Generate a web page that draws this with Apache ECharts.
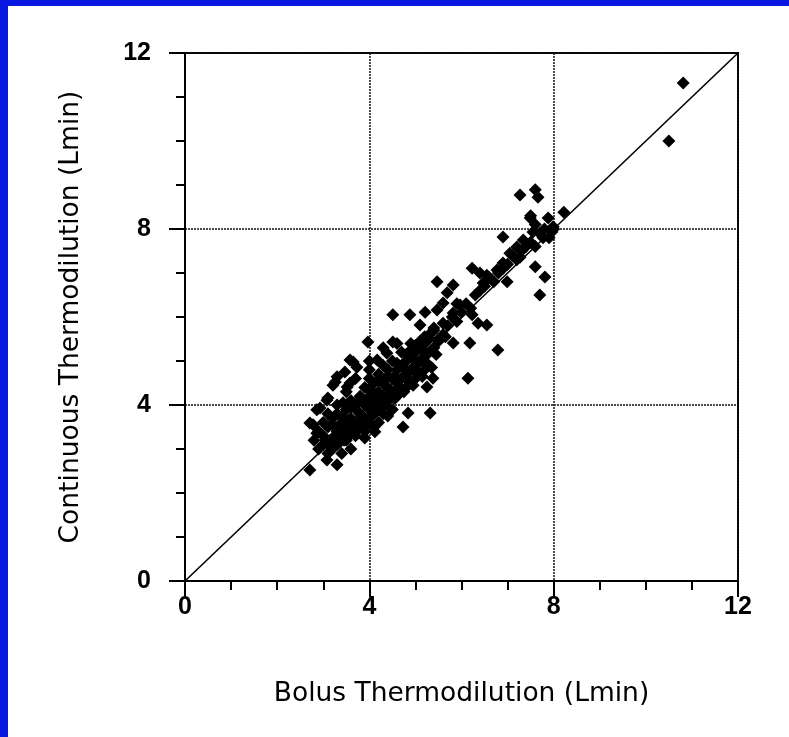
<!DOCTYPE html>
<html>
<head>
<meta charset="utf-8">
<script src="https://cdn.jsdelivr.net/npm/echarts@6/dist/echarts.min.js"></script>
<style>
html,body{margin:0;padding:0;background:#fff;}
#c{width:789px;height:737px;}
</style>
</head>
<body>
<div id="c"></div>
<script>
// Bolus thermodilution (x) vs Continuous thermodilution (y), L/min
const bolus = [
  10.81,10.50,
  7.27,7.60,7.66,8.22,7.88,7.49,7.96,7.99,
  6.90,7.34,7.55,7.77,7.20,7.05,7.27,7.60,7.81,7.70,
  6.90,6.77,6.99,6.23,6.40,6.55,6.47,
  5.47,5.82,5.69,5.60,5.97,5.82,6.23,6.36,6.55,6.79,6.18,5.82,6.14,
  4.51,4.88,5.10,5.21,5.47,5.60,3.97,4.51,5.38,5.25,5.32,4.84,4.73,4.12,2.71,3.30,3.08,
  3.58,3.73,3.30,3.52,3.21,3.08,2.93,2.71,2.86,3.43,3.58,3.10,3.65,3.47,3.26,2.78,2.86,
  4.17,4.38,4.00,
  2.90,3.00,3.10,3.00,3.20,3.10,2.90,3.20,3.30,3.30,3.40,3.40,3.20,3.50,3.50,3.60,3.60,3.50,3.30,3.70,
  3.70,3.80,3.80,3.70,3.90,3.90,4.00,4.00,4.00,3.80,3.60,3.90,4.10,4.10,4.20,4.20,4.10,4.30,4.30,4.20,
  4.00,4.40,4.40,4.50,4.50,4.40,4.30,4.60,4.60,4.70,4.70,4.50,4.80,4.80,4.90,4.90,4.70,5.00,5.00,5.10,
  5.10,4.90,5.20,5.20,5.30,4.60,4.80,5.00,5.20,4.50,4.30,3.60,3.40,3.90,4.20,3.50,3.30,3.10,3.00,2.80,
  3.70,4.00,4.30,4.60,5.30,5.40,5.50,5.40,5.60,5.70,5.80,5.90,6.00,6.10,5.90,6.20,6.30,6.40,6.50,6.60,
  6.70,6.80,6.90,7.00,7.10,7.20,7.30,7.40,7.50,7.60,7.70,7.80,7.90,7.60,7.50,8.00,
  3.05,3.15,3.25,3.35,3.45,3.55,3.65,3.75,3.85,3.95,4.05,4.15,4.25,4.35,4.45,4.55,4.65,4.75,4.85,4.95,
  5.05,5.15,5.25,5.35,5.45,3.40,3.60,3.80,4.00,4.20,4.40,4.60,4.80,5.00,5.20,5.40,3.20,3.90,4.10,4.40,
  3.35,3.55,3.75,3.95,4.15,4.35,4.55,4.75,4.95,5.15,3.45,3.65,3.85,4.05,4.25,4.45,4.65,4.85,5.05,5.25,
  4.90,5.10,5.30,5.50,5.65
];
const continuous = [
  11.32,10.00,
  8.77,8.89,8.72,8.38,8.25,8.25,7.93,8.05,
  7.82,7.75,7.93,7.80,7.59,7.45,7.36,7.14,6.91,6.50,
  7.23,7.07,6.80,7.11,7.00,6.95,6.77,
  6.80,6.73,6.55,6.32,6.27,6.09,6.05,5.86,5.82,5.25,5.41,5.41,4.61,
  6.05,6.05,5.82,6.11,6.16,5.86,5.43,5.43,4.61,4.41,3.82,3.82,3.50,3.39,2.52,2.64,2.75,
  5.02,4.86,4.64,4.41,4.45,4.11,3.93,3.59,3.36,4.05,4.50,4.16,4.98,4.75,4.52,3.55,3.89,
  5.02,5.18,4.80,
  3.00,3.10,2.90,3.30,3.20,3.50,3.40,3.00,3.10,3.40,3.30,3.60,3.70,3.20,3.50,3.40,3.70,3.90,3.80,3.30,
  3.60,3.50,3.80,4.00,3.70,4.00,3.60,3.90,4.20,4.20,4.10,4.40,3.80,4.10,4.00,4.30,4.50,4.20,4.50,4.70,
  4.60,4.10,4.40,4.30,4.60,4.80,4.90,4.50,4.80,4.60,4.90,5.00,4.70,5.00,4.80,5.10,5.20,4.90,5.20,5.00,
  5.30,5.40,5.10,5.40,5.20,4.20,4.40,4.60,4.80,3.90,3.80,3.00,2.90,3.40,3.60,4.30,4.00,3.80,3.60,3.20,
  4.60,5.00,5.30,5.40,5.50,5.30,5.50,5.70,5.60,5.80,6.00,5.90,6.10,6.30,6.30,6.20,6.50,6.60,6.70,6.90,
  6.80,7.00,7.10,7.20,7.40,7.30,7.50,7.60,7.70,7.60,7.90,8.00,7.80,8.10,8.30,8.00,
  3.20,3.05,3.30,3.15,3.45,3.30,3.55,3.45,3.65,3.55,3.95,3.85,4.10,4.00,4.25,4.15,4.40,4.30,4.55,4.45,
  4.75,4.65,4.95,4.85,5.15,3.75,3.95,4.15,4.35,4.55,4.65,4.95,5.15,5.35,5.55,5.75,3.55,3.25,3.50,3.75,
  3.45,3.65,3.85,4.05,4.25,4.45,4.65,4.85,5.05,5.25,3.20,3.40,3.55,3.75,3.95,4.15,4.35,4.55,4.70,4.90,
  5.25,5.45,5.60,5.45,5.55
];
const identityLine = [[0, 0], [12, 12]];
const tickValues = [0, 4, 8, 12];

const points = bolus.map((b, i) => [b, continuous[i]]);

const chart = echarts.init(document.getElementById('c'), null, {renderer: 'canvas'});
const labelFont = {fontSize: 25, fontWeight: 'bold', color: '#000', fontFamily: "Arial, 'Liberation Sans', sans-serif"};
const axisCommon = {
  type: 'value', min: tickValues[0], max: tickValues[tickValues.length - 1], interval: 4,
  axisLine: {show: true, onZero: false, lineStyle: {color: '#000', width: 2}},
  axisTick: {show: true, length: 16, lineStyle: {color: '#000', width: 2}},
  minorTick: {show: true, splitNumber: 4, length: 9, lineStyle: {color: '#000', width: 2}},
  splitLine: {show: true, lineStyle: {type: [2, 1], color: '#111', width: 1.5}},
  nameLocation: 'middle',
  nameTextStyle: {fontSize: 26.5, color: '#000', fontFamily: "'DejaVu Sans', sans-serif"}
};
chart.setOption({
  backgroundColor: '#fff',
  animation: false,
  graphic: [
    {type: 'rect', left: 0, top: 0, shape: {width: 789, height: 6}, style: {fill: '#0818e0'}},
    {type: 'rect', left: 0, top: 0, shape: {width: 8, height: 737}, style: {fill: '#0818e0'}}
  ],
  grid: {left: 185, right: 51, top: 53, bottom: 156, show: true, borderColor: '#000', borderWidth: 2, backgroundColor: 'transparent'},
  xAxis: Object.assign({}, axisCommon, {
    name: 'Bolus Thermodilution (Lmin)', nameGap: 100,
    axisLabel: Object.assign({margin: 14}, labelFont)
  }),
  yAxis: Object.assign({}, axisCommon, {
    name: 'Continuous Thermodilution (Lmin)', nameGap: 100,
    axisLabel: Object.assign({margin: 34}, labelFont)
  }),
  series: [
    {
      type: 'line', data: identityLine, symbol: 'none', silent: true,
      lineStyle: {color: '#000', width: 1.6}, z: 3
    },
    {
      type: 'scatter', data: points, symbol: 'diamond', symbolSize: 13,
      itemStyle: {color: '#000', opacity: 1}, z: 4
    }
  ]
});
</script>
</body>
</html>
